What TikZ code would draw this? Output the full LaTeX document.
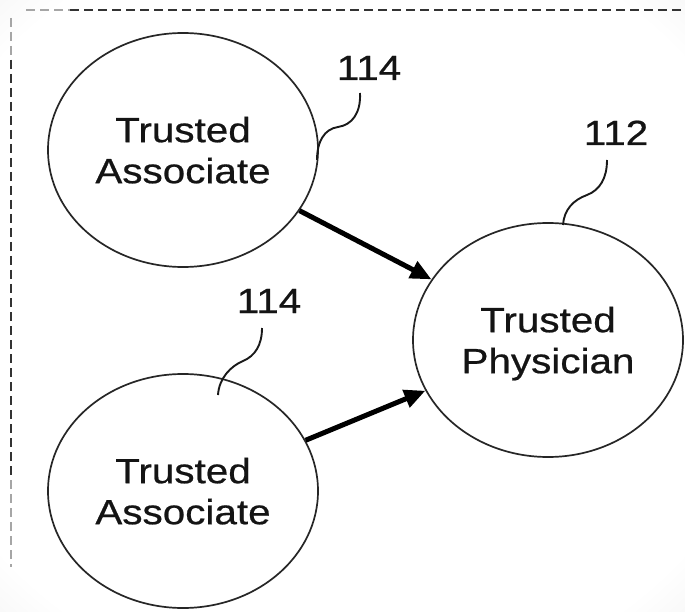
\documentclass[tikz,border=0pt]{standalone}
\usepackage{fontspec}
\setmainfont{Liberation Sans}[FakeStretch=1.155,FakeBold=0.6]
\usetikzlibrary{shapes.geometric,arrows.meta}
\pgfdeclareradialshading{vign}{\pgfpoint{0bp}{0bp}}{color(0bp)=(white); color(32bp)=(white); color(50bp)=(black!13); color(72bp)=(black!22)}
\begin{document}
\begin{tikzpicture}[x=1pt,y=-1pt,
  bubble/.style={draw=black!85, line width=1.7pt, ellipse, minimum width=270pt, minimum height=234pt, inner sep=0pt, align=center, font=\fontsize{35}{41}\selectfont, text=black!92, text depth=0pt},
  reflabel/.style={anchor=base, font=\fontsize{35}{41}\selectfont, text=black!92, inner sep=0pt},
  leader/.style={draw=black!90, line width=1.9pt},
  link/.style={draw=black, line width=5pt, -{Triangle[length=21pt,width=18pt]}},
  framedark/.style={draw=black!80, line width=2.5pt, dash pattern=on 9pt off 5pt},
  framelight/.style={draw=black!35, line width=2.5pt, dash pattern=on 9pt off 5pt}]
\useasboundingbox (0,0) rectangle (685,612);
\shade[shading=vign] (0,0) rectangle (685,612);
% frame
\coordinate (ftr) at (685,10);
\coordinate (ftm) at (70,10);
\coordinate (flm) at (11,480);
\coordinate (flb) at (11,567);
\draw[framelight] (26,10) -- (ftm);
\draw[framedark] (ftm) -- (ftr);
\draw[framelight] (11,18) -- (11,60);
\draw[framedark] (11,60) -- (flm);
\draw[framelight] (flm) -- (flb);
% nodes
\node[bubble] (a1) at (183,150) {Trusted\\Associate};
\node[bubble] (a2) at (183,491) {Trusted\\Associate};
\node[bubble] (p) at (548,340) {Trusted\\Physician};
% labels
\node[reflabel] (l1) at (369,80) {114};
\node[reflabel] (l2) at (616,145) {112};
\node[reflabel] (l3) at (269,313) {114};
% leaders
\coordinate (l1s) at (360,93);
\coordinate (l1e) at (317,160);
\coordinate (l2s) at (607,160);
\coordinate (l2e) at (563,225);
\coordinate (l3s) at (262,328);
\coordinate (l3e) at (218,395);
\draw[leader] (l1s) .. controls (361,113) and (352,125) .. (338,127) .. controls (324,129) and (317,142) .. (l1e);
\draw[leader] (l2s) .. controls (607,178) and (600,190) .. (587,195) .. controls (573,200) and (564,210) .. (l2e);
\draw[leader] (l3s) .. controls (262,345) and (255,356) .. (243,361) .. controls (231,366) and (219,378) .. (l3e);
% arrows
\draw[link] (a1) -- (p);
\draw[link] (a2) -- (p);
\end{tikzpicture}
\end{document}
